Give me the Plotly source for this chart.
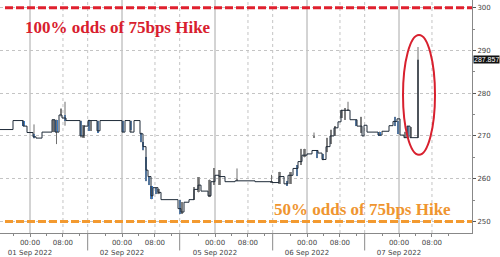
import plotly.graph_objects as go

# ---- data (x = 15-minute bar index along the session axis) ----
step_t = [0, 13, 23, 27, 33, 36, 42, 52, 55, 59, 62, 66, 80, 84, 88, 97, 100, 122, 125, 130, 134,
          140, 143, 146, 148, 151, 153, 158, 161, 178, 181, 184, 189, 194, 198, 201, 208, 211, 215,
          219, 225, 235, 255, 272, 279, 284, 288, 293, 298, 302, 307, 312, 318, 322, 326, 330, 334,
          338, 341, 350, 357, 362, 364, 367, 378, 382, 389, 393, 397, 400, 404, 407, 410, 418]
step_v = [271.5, 273.6, 272.3, 270.8, 269.8, 269.5, 270.9, 273.8, 270.9, 274.9, 274.2, 273.6, 270.0,
          272.3, 273.6, 271.2, 273.6, 270.9, 273.6, 270.9, 273.6, 270.5, 267.5, 262.0, 260.5, 256.0,
          257.9, 256.8, 255.1, 253.0, 252.2, 254.5, 255.1, 257.5, 258.5, 257.1, 256.0, 259.3, 260.8,
          260.5, 259.3, 259.5, 259.3, 259.1, 260.5, 258.8, 260.8, 262.4, 264.0, 265.5, 265.8, 266.6,
          266.0, 264.5, 267.5, 270.0, 271.9, 273.3, 276.0, 273.8, 272.3, 270.0, 272.5, 270.9, 270.2,
          271.1, 272.4, 273.4, 274.0, 270.2, 269.6, 272.3, 269.6, 287.857]

candle_t = [23.5, 34, 53.5, 56.5, 61, 65, 81, 83.5, 89, 91, 98, 123, 131, 141, 143, 146, 149, 151.5,
            156, 158.5, 180, 182, 194, 198.5, 209.5, 214, 219.5, 237, 271.5, 279.5, 287, 290.5, 297,
            301, 304.5, 314, 317, 323, 327, 331, 335, 341.5, 345, 348, 356, 361, 379.5, 395, 398,
            405, 408, 411, 418]
candle_o = [273.6, 270.5, 270.9, 273.8, 274.9, 274.9, 273.6, 269.6, 273.8, 271.2, 273.6, 273.6, 273.6,
            270.8, 268.5, 265.1, 260.5, 258.2, 257.9, 256.4, 255.1, 251.8, 255.1, 256.8, 255.7, 258.6,
            258.6, 259.5, 259.1, 258.8, 259.5, 258.8, 263.2, 263.2, 265.0, 269.6, 266.6, 265.8, 266.2,
            268.1, 270.0, 274.2, 273.8, 276.0, 273.8, 270.8, 271.0, 274.5, 273.5, 269.6, 272.3, 269.6,
            269.6]
candle_h = [273.6, 272.7, 273.8, 273.8, 276.5, 278.0, 273.6, 272.5, 273.8, 273.6, 273.6, 273.6, 273.6,
            270.8, 268.5, 265.1, 260.5, 258.2, 257.9, 257.5, 255.1, 254.5, 258.0, 260.3, 259.8, 262.5,
            262.0, 262.4, 260.9, 261.6, 259.5, 261.5, 263.2, 267.0, 267.0, 270.8, 266.6, 265.8, 269.6,
            271.5, 272.3, 276.1, 276.5, 278.0, 273.8, 274.5, 271.0, 274.5, 273.5, 271.0, 272.3, 272.0,
            290.8]
candle_l = [272.3, 269.4, 270.9, 268.1, 274.5, 272.4, 269.6, 269.6, 271.2, 271.2, 270.8, 270.9, 270.9,
            268.5, 266.6, 259.4, 258.5, 255.2, 256.4, 256.4, 251.8, 251.8, 255.1, 256.8, 255.7, 258.6,
            258.6, 259.5, 259.1, 258.8, 258.3, 258.8, 260.6, 263.2, 265.0, 269.6, 264.8, 264.3, 266.2,
            268.1, 270.0, 274.2, 273.8, 276.0, 272.3, 270.8, 270.0, 272.3, 270.5, 269.6, 269.6, 269.6,
            269.6]
candle_c = [272.3, 269.6, 273.8, 270.9, 276.2, 273.6, 270.0, 272.5, 271.2, 273.6, 270.8, 270.9, 271.5,
            268.5, 266.6, 259.4, 258.5, 255.2, 256.4, 257.5, 251.8, 254.5, 258.0, 260.3, 259.8, 262.5,
            262.0, 259.5, 259.1, 261.6, 258.3, 261.5, 260.6, 267.0, 267.0, 269.6, 264.8, 264.3, 269.6,
            271.5, 272.3, 276.1, 276.5, 276.0, 272.3, 274.5, 270.0, 272.3, 270.5, 271.0, 269.6, 272.0,
            287.857]

day_labels = ["01 Sep 2022", "02 Sep 2022", "05 Sep 2022", "06 Sep 2022", "07 Sep 2022"]
day_zero_t = [30, 122, 215, 307, 399]      # 00:00 of each day
hours_to_t = 4.12                           # bars per hour on the axis
last_price = 287.857
odds_100_level = 300
odds_50_level = 250
y_ticks = [250, 260, 270, 280, 290, 300]

# ---- derived ----
morning_t = [z + 8 * hours_to_t for z in day_zero_t]
sep_t = [z + 14 * hours_to_t for z in day_zero_t[:-1]]
minor_t = []
for z in day_zero_t:
    for h in (-4, 4, 12):
        minor_t.append(z + h * hours_to_t)

fig = go.Figure()

# wicks
wx, wy = [], []
for t, h, l in zip(candle_t, candle_h, candle_l):
    wx += [t, t, None]
    wy += [l, h, None]
fig.add_trace(go.Scatter(x=wx, y=wy, mode="lines", line=dict(color="#707070", width=1),
                         hoverinfo="skip", showlegend=False))

# step line
fig.add_trace(go.Scatter(x=step_t, y=step_v, mode="lines", line=dict(color="#1e2a38", width=1, shape="hv"),
                         showlegend=False))

# bodies
body_col = ["#8c8c8c" if c >= o else "#3a7cc8" for o, c in zip(candle_o, candle_c)]
fig.add_trace(go.Bar(x=candle_t, base=[min(o, c) for o, c in zip(candle_o, candle_c)],
                     y=[max(abs(c - o), 0.25) for o, c in zip(candle_o, candle_c)],
                     width=2.2, marker=dict(color=body_col, line=dict(width=0)),
                     showlegend=False))

shapes = []
for z in day_zero_t:
    shapes.append(dict(type="line", xref="x", yref="paper", x0=z, x1=z, y0=0, y1=1,
                       line=dict(color="#a8a8a8", width=1), layer="below"))
for m in morning_t + sep_t:
    shapes.append(dict(type="line", xref="x", yref="paper", x0=m, x1=m, y0=0, y1=1,
                       line=dict(color="#c4c4c4", width=1, dash="dot"), layer="below"))
for s in sep_t:
    shapes.append(dict(type="line", xref="x", yref="paper", x0=s, x1=s, y0=-0.075, y1=0,
                       line=dict(color="#8a8a8a", width=1)))
shapes.append(dict(type="line", xref="x", yref="y", x0=5, x1=472, y0=odds_100_level, y1=odds_100_level,
                   line=dict(color="#e0202e", width=3, dash="8px,3px")))
shapes.append(dict(type="line", xref="x", yref="y", x0=5, x1=472, y0=odds_50_level, y1=odds_50_level,
                   line=dict(color="#f39a30", width=3, dash="8px,3px")))
shapes.append(dict(type="circle", xref="x", yref="y", x0=403, x1=435, y0=265.6, y1=293.6,
                   line=dict(color="#d8202e", width=2)))

annotations = [
    dict(text="<b>100% odds of 75bps Hike</b>", xref="x", yref="y", x=23, y=295.3,
         xanchor="left", yanchor="middle", showarrow=False,
         font=dict(family="Liberation Serif", size=17, color="#d8202e")),
    dict(text="<b>50% odds of 75bps Hike</b>", xref="x", yref="y", x=272, y=252.7,
         xanchor="left", yanchor="middle", showarrow=False,
         font=dict(family="Liberation Serif", size=17, color="#ef9530")),
    dict(text=f"{last_price:.3f}", xref="paper", yref="y", x=1, y=last_price, xshift=1,
         xanchor="left", yanchor="middle", showarrow=False, bgcolor="#111111", borderpad=0,
         font=dict(family="Liberation Sans", size=7, color="white")),
]

tickvals, ticktext = [], []
for z, m, d in zip(day_zero_t, morning_t, day_labels):
    tickvals += [z, m]
    ticktext += [f"00:00<br>{d}", "08:00"]

fig.update_layout(
    width=500, height=257, margin=dict(l=0, r=28, t=0, b=17),
    paper_bgcolor="white", plot_bgcolor="white", bargap=0,
    shapes=shapes, annotations=annotations,
    xaxis=dict(range=[0, 472], tickvals=tickvals, ticktext=ticktext, tickangle=0,
               showgrid=False, zeroline=False,
               showline=True, linecolor="#888888", linewidth=1, ticks="outside", ticklen=3,
               tickcolor="#888888", tickfont=dict(family="DejaVu Sans", size=7, color="#444444"),
               minor=dict(tickvals=minor_t, ticks="outside", ticklen=2, tickcolor="#888888")),
    yaxis=dict(side="right", range=[247.3, 301.8], tickvals=y_ticks, showgrid=True,
               gridcolor="#c4c4c4", griddash="dot", gridwidth=1, zeroline=False,
               showline=True, linecolor="#888888", linewidth=1, ticks="outside", ticklen=3,
               tickcolor="#555555", tickfont=dict(family="DejaVu Sans", size=7, color="#444444"),
               minor=dict(dtick=5, ticks="outside", ticklen=2, tickcolor="#888888", showgrid=False)),
)

fig.write_html("out.html")
